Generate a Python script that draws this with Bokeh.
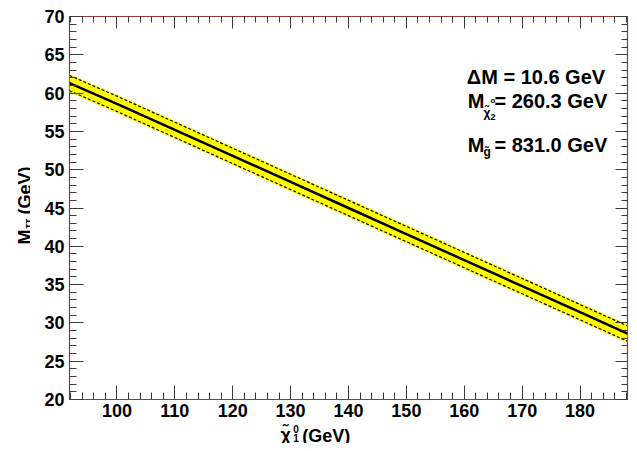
import math
from bokeh.plotting import figure
from bokeh.layouts import row, column
from bokeh.models import Range1d, LinearAxis, Label, CustomJSTickFormatter, SingleIntervalTicker
from bokeh.core.properties import value
from bokeh.embed import file_html
from bokeh.resources import INLINE

# ---- data ----
chi1_mass = [91.8, 100, 110, 120, 130, 140, 150, 160, 170, 180, 188.2]
m_tautau = [61.3, 58.6, 55.2, 51.8, 48.4, 45.0, 41.6, 38.2, 34.8, 31.4, 28.6]
band_err = [1.2, 1.2, 1.2, 1.2, 1.2, 1.2, 1.2, 1.2, 1.2, 1.2, 1.2]
dash_err = [1.0, 1.0, 1.0, 1.0, 1.0, 1.0, 1.0, 1.0, 1.0, 1.0, 1.0]
x_lim = (91.8, 188.2)
y_lim = (20, 70)
info_dm = "ΔM = 10.6 GeV"
info_m2 = "= 260.3 GeV"
info_mg = "= 831.0 GeV"

FONT = "Liberation Sans"
FRAME = "#9a3636"
TICK = "#3a3a3a"

YLAB_W = 30
MAIN_W = 599
MAIN_H = 423
XLAB_H = 20
B_LEFT, B_RIGHT = 39, 2

p = figure(width=MAIN_W, height=MAIN_H, output_backend="svg", toolbar_location=None,
           title=None,
           x_range=Range1d(*x_lim), y_range=Range1d(*y_lim),
           x_axis_location=None, y_axis_location=None,
           min_border_left=B_LEFT, min_border_right=B_RIGHT, min_border_top=16, min_border_bottom=24)
p.xgrid.visible = False
p.ygrid.visible = False
p.outline_line_color = FRAME
p.outline_line_width = 1.2
p.background_fill_color = "white"
p.border_fill_color = "white"

up = [m + e for m, e in zip(m_tautau, band_err)]
lo = [m - e for m, e in zip(m_tautau, band_err)]
dup = [m + e for m, e in zip(m_tautau, dash_err)]
dlo = [m - e for m, e in zip(m_tautau, dash_err)]
p.varea(x=chi1_mass, y1=lo, y2=up, fill_color="#ffff00")
p.line(chi1_mass, dup, line_color="black", line_width=1.2, line_dash="3 2")
p.line(chi1_mass, dlo, line_color="black", line_width=1.2, line_dash="3 2")
p.line(chi1_mass, m_tautau, line_color="black", line_width=2.5)

def style(ax, labels, major_in, minor_in):
    ax.axis_line_color = None
    ax.major_tick_line_color = TICK
    ax.minor_tick_line_color = TICK
    ax.major_tick_out = 0
    ax.minor_tick_out = 0
    ax.major_tick_in = major_in
    ax.minor_tick_in = minor_in
    if labels:
        ax.major_label_text_font = FONT
        ax.major_label_text_font_style = "bold"
        ax.major_label_text_font_size = "18px"
        ax.major_label_text_color = "black"
    else:
        ax.formatter = CustomJSTickFormatter(code="return ''")
        ax.major_label_standoff = 0
        ax.major_label_text_font_size = "1px"

xb = LinearAxis(ticker=SingleIntervalTicker(interval=10, num_minor_ticks=5)); style(xb, True, 14, 7)
xb.major_label_standoff = 4
xa = LinearAxis(ticker=SingleIntervalTicker(interval=10, num_minor_ticks=5)); style(xa, False, 12, 6)
yl = LinearAxis(ticker=SingleIntervalTicker(interval=5, num_minor_ticks=5)); style(yl, True, 14, 7)
yl.major_label_standoff = 5
yr = LinearAxis(ticker=SingleIntervalTicker(interval=5, num_minor_ticks=5)); style(yr, False, 12, 6)
p.add_layout(xb, "below")
p.add_layout(xa, "above")
p.add_layout(yl, "left")
p.add_layout(yr, "right")

def lab(x, y, t, size="20px"):
    p.add_layout(Label(x=x, y=y, text=t, text_font=FONT, text_font_style="bold",
                       text_font_size=size, text_color="black",
                       text_align="left", text_baseline="alphabetic"))

# reference-pixel -> data helpers (reference frame spans x 69..635, y 17..407)
def dx(px):
    return x_lim[0] + (px - 69) * (x_lim[1] - x_lim[0]) / 566
def dy(py):
    return y_lim[1] - (py - 17) * (y_lim[1] - y_lim[0]) / 390

lab(dx(472), dy(79), info_dm)
lab(dx(473), dy(103), "M")
lab(dx(489), dy(115), "χ̃", size="12px")
lab(dx(496), dy(103), "o", size="8px")
lab(dx(496), dy(119), "2", size="9px")
lab(dx(500), dy(103), info_m2)
lab(dx(473), dy(148), "M")
lab(dx(489), dy(155), "g̃", size="12px")
lab(dx(500), dy(148), info_mg)

def bare(w, h, xr, yr_, bl=0, br=0):
    f = figure(width=w, height=h, output_backend="svg", toolbar_location=None, title=None,
               x_range=Range1d(*xr), y_range=Range1d(*yr_),
               x_axis_location=None, y_axis_location=None,
               min_border=0, min_border_left=bl, min_border_right=br,
               min_border_top=0, min_border_bottom=0)
    f.xgrid.visible = False
    f.ygrid.visible = False
    f.outline_line_color = None
    f.background_fill_color = "white"
    f.border_fill_color = "white"
    return f

def txt(f, x, y, t, size, angle=0.0):
    f.text(x=[x], y=[y], text=[t], angle=angle, text_font=value(FONT), text_font_style="bold",
           text_font_size=size, text_align="left", text_baseline="alphabetic", text_color="black")

# ---- y axis title panel: local pixels, y measured downward ----
H = MAIN_H + XLAB_H
yf = bare(YLAB_W, H, (0, YLAB_W), (H, 0))
a = math.pi / 2
txt(yf, 24, 244, "M", "18px", a)
txt(yf, 27.5, 228, "ττ", "11px", a)
txt(yf, 24, 214, "(GeV)", "18px", a)

# ---- x axis title panel: same frame and x range as the main plot ----
xf = bare(MAIN_W, XLAB_H, x_lim, (XLAB_H, 0), B_LEFT, B_RIGHT)
txt(xf, dx(283), 11, "χ̃", "18px")
txt(xf, dx(296), 5, "0", "10px")
txt(xf, dx(296), 14, "1", "10px")
txt(xf, dx(305), 12, "(GeV)", "18px")

layout = row(yf, column(p, xf, spacing=0), spacing=0)
open("out.html", "w").write(file_html(layout, INLINE))
